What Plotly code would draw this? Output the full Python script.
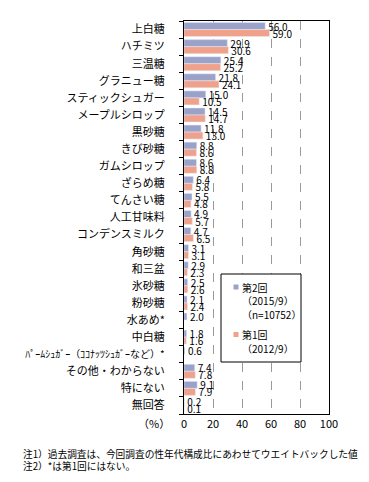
import plotly.graph_objects as go

categories = ["上白糖", "ハチミツ", "三温糖", "グラニュー糖", "スティックシュガー", "メープルシロップ",
              "黒砂糖", "きび砂糖", "ガムシロップ", "ざらめ糖", "てんさい糖", "人工甘味料",
              "コンデンスミルク", "角砂糖", "和三盆", "氷砂糖", "粉砂糖", "水あめ*", "中白糖",
              "ﾊﾟｰﾑｼｭｶﾞｰ（ｺｺﾅｯﾂｼｭｶﾞｰなど）*", "その他・わからない", "特にない", "無回答"]
wave2 = [56.0, 29.9, 25.4, 21.8, 15.0, 14.5, 11.8, 8.8, 8.6, 6.4, 5.5, 4.9, 4.7, 3.1, 2.9,
         2.5, 2.1, 2.0, 1.8, 0.6, 7.4, 9.1, 0.2]
wave1 = [59.0, 30.6, 25.2, 24.1, 10.5, 14.7, 13.0, 8.6, 8.8, 5.8, 4.8, 5.7, 6.5, 3.1, 2.3,
         2.6, 2.4, None, 1.6, None, 7.8, 7.9, 0.1]
legend2_lines = ["第2回", "（2015/9）", "（n=10752）"]
legend1_lines = ["第1回", "（2012/9）"]
x_ticks = [0, 20, 40, 60, 80, 100]

FONT = "Noto Sans CJK JP"
C2 = "#9AA2CA"
C1 = "#F0A18B"

# plot area in pixels (for converting legend/annotation placement)
L, R, T, B = 176, 321, 13, 406

def px(x):
    return (x - L) / (R - L)

def py(y):
    return (B - y) / (B - T)

def fmt(vals):
    return ["" if v is None else f"{v:.1f}" for v in vals]

ticktext = [f'<span style="font-size:10px">{c}</span>' if c.startswith("ﾊﾟ") else c for c in categories]

fig = go.Figure()
fig.add_trace(go.Bar(y=categories, x=wave2, name="第2回", orientation="h", marker_color=C2,
                     text=fmt(wave2), textposition="outside", constraintext="none",
                     textfont=dict(size=10, color="black", family=FONT), cliponaxis=False,
                     showlegend=False))
fig.add_trace(go.Bar(y=categories, x=wave1, name="第1回", orientation="h", marker_color=C1,
                     text=fmt(wave1), textposition="outside", constraintext="none",
                     textfont=dict(size=10, color="black", family=FONT), cliponaxis=False,
                     showlegend=False))

fig.update_layout(
    width=369, height=482,
    margin=dict(l=L, r=369 - R, t=T, b=482 - B),
    paper_bgcolor="white", plot_bgcolor="white",
    font=dict(family=FONT, size=11, color="black"),
    barmode="group", bargap=0.18, bargroupgap=0,
    showlegend=False,
    xaxis=dict(range=[0, 100], tickvals=x_ticks, showgrid=True, gridcolor="#9a9a9a",
               griddash="dash", gridwidth=1, showline=True, linecolor="black", linewidth=1,
               mirror=True, ticks="", zeroline=False, tickfont=dict(size=11)),
    yaxis=dict(autorange="reversed", tickvals=categories, ticktext=ticktext,
               showline=True, linecolor="black", linewidth=1, mirror=True,
               ticks="outside", tickson="boundaries", ticklen=4, tickcolor="black",
               ticklabelstandoff=16, tickfont=dict(size=11)),
)

# legend box
fig.add_shape(type="rect", xref="paper", yref="paper", x0=px(213), x1=px(293),
              y0=py(354), y1=py(266), line=dict(color="black", width=1), fillcolor="white",
              layer="above")
for color, lines, y0 in [(C2, legend2_lines, 279), (C1, legend1_lines, 326.5)]:
    fig.add_shape(type="rect", xref="paper", yref="paper", x0=px(225.5), x1=px(230.5),
                  y0=py(y0 + 2.5), y1=py(y0 - 2.5), line=dict(width=0), fillcolor=color,
                  layer="above")
    for i, t in enumerate(lines):
        fig.add_annotation(text=t, xref="paper", yref="paper", x=px(231.5), y=py(y0 + i * 13.6),
                           xanchor="left", yanchor="middle", showarrow=False,
                           font=dict(size=10))

fig.add_annotation(text="（%）", xref="paper", yref="paper", x=px(145.5), y=py(415.5),
                   xanchor="center", yanchor="middle", showarrow=False, font=dict(size=11))
fig.add_annotation(text="注1）過去調査は、今回調査の性年代構成比にあわせてウエイトバックした値",
                   xref="paper", yref="paper", x=px(13), y=py(446), xanchor="left",
                   yanchor="middle", showarrow=False, font=dict(size=9.7))
fig.add_annotation(text="注2）*は第1回にはない。",
                   xref="paper", yref="paper", x=px(13), y=py(458), xanchor="left",
                   yanchor="middle", showarrow=False, font=dict(size=9.7))

fig.write_html("out.html")
